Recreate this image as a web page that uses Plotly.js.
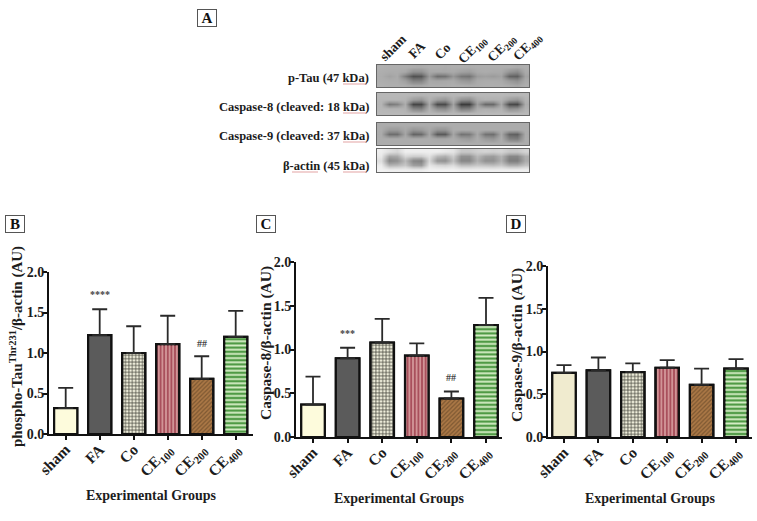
<!DOCTYPE html>
<html><head><meta charset="utf-8">
<script src="https://cdn.plot.ly/plotly-3.0.1.min.js"></script>
<style>html,body{margin:0;padding:0;background:#fff}</style></head>
<body><div id="chart" style="width:757px;height:521px"></div>
<script>
const groups = [0,1,2,3,4,5];
const groupLabels = ['sham','FA','Co','CE<sub>100</sub>','CE<sub>200</sub>','CE<sub>400</sub>'];
const tauValues = [0.32,1.22,1.00,1.11,0.68,1.20];
const tauErrors = [0.25,0.32,0.33,0.35,0.28,0.32];
const casp8Values = [0.37,0.90,1.08,0.93,0.44,1.28];
const casp8Errors = [0.32,0.12,0.27,0.14,0.08,0.31];
const casp9Values = [0.75,0.78,0.76,0.81,0.61,0.80];
const casp9Errors = [0.09,0.15,0.10,0.09,0.19,0.11];
const yTicks = [0,0.5,1,1.5,2];
const yTickLabels = ['0.0','0.5','1.0','1.5','2.0'];

const blotTau = [
 [176,174,174,174,172,170,174,174,172,174,174,172,174,174,174,174,174,170,174],
 [174,172,172,168,145,145,168,168,168,170,162,158,170,172,170,170,150,140,170],
 [172,162,170,125,80, 85, 155,110,115,150,120,115,155,160,155,162,100,95, 162],
 [174,172,172,160,130,130,168,165,168,170,155,150,170,172,172,170,155,145,170],
 [176,174,174,172,165,165,172,172,172,174,172,170,172,174,174,174,170,165,174]];
const blotCasp8 = [
 [184,184,184,184,182,180,182,182,180,182,182,180,184,184,184,184,182,182,184],
 [182,182,182,180,158,150,178,158,150,176,145,140,172,178,176,178,158,150,178],
 [180,120,130,172,70, 70, 168,75, 75, 162,60, 60, 158,105,105,168,75, 70, 172],
 [182,180,180,178,135,130,176,145,140,172,125,130,172,175,172,178,145,150,178],
 [184,184,184,182,180,178,182,180,180,182,180,180,182,184,184,184,182,182,184]];
const blotCasp9 = [
 [172,172,172,172,172,172,172,172,172,172,172,172,172,172,172,172,172,172,172],
 [172,155,155,168,150,155,168,150,150,172,172,172,172,172,172,172,172,172,172],
 [170,110,110,165,100,105,165,90, 90, 165,115,120,168,115,110,168,100,95, 170],
 [172,172,172,172,172,172,172,168,168,172,160,155,172,155,150,172,130,125,172],
 [172,172,172,172,172,172,172,172,172,172,172,172,172,172,172,172,172,172,172]];
const blotActin = [
 [238,225,215,238,238,238,238,238,232,228,200,200,208,212,208,212,200,200,212],
 [232,165,170,215,205,205,225,185,175,205,145,145,185,160,155,180,135,135,175],
 [222,135,145,185,135,130,215,150,145,190,135,135,175,145,145,175,125,125,170],
 [236,180,185,200,160,155,230,215,210,220,190,190,200,195,190,200,175,175,195],
 [242,238,238,238,235,235,242,242,242,242,238,238,238,238,238,238,238,238,238]];

const W = 757, H = 521;
const dx = (a,b)=>[a/W,b/W];
const dy = (top,bot)=>[1-bot/H,1-top/H];
const serif = '"Liberation Serif","Times New Roman",serif';
const ink = '#1c1c1c';

function baseBars(vals, first, ax){
  return {type:'bar', x:groups, y:vals, width:0.68, xaxis:'x'+ax, yaxis:'y'+ax, showlegend:false,
    marker:{color:[first,'#5b5b5b','#f0efdc','#a9505c','#ab7846','#4f9a45'],line:{color:'#111',width:2.2}}};
}
function patternBars(vals, errs, first, ax){
  return {type:'bar', x:groups, y:vals, width:0.68, xaxis:'x'+ax, yaxis:'y'+ax, showlegend:false,
    marker:{color:[first,'#5b5b5b','#4a4a40','#dba5a5','#7d5832','#d4ecc4'],
      line:{color:'#111',width:2.2},
      pattern:{shape:['','','+','|','/','-'],
        size:[4,4,3.4,3.6,3,4.2],solidity:[0.3,0.3,0.4,0.4,0.4,0.45],fillmode:'replace'}},
    error_y:{type:'data',symmetric:false,array:errs,arrayminus:[0,0,0,0,0,0],color:'#2a2a2a',thickness:1.8,width:7.5}};
}
function heat(z, ax){
  return {type:'heatmap', z:z, xaxis:'x'+ax, yaxis:'y'+ax, showscale:false, zsmooth:'best',
    zmin:0, zmax:255, colorscale:[[0,'#000'],[1,'#fff']], hoverinfo:'skip'};
}
function xAxis(domain, range, anchor){
  return {domain:domain, range:range, anchor:anchor, tickmode:'array', tickvals:groups, ticktext:groupLabels,
    tickangle:-45, ticks:'outside', ticklen:4, tickwidth:2, tickcolor:'#111', showline:true, linecolor:'#111', linewidth:2.4,
    showgrid:false, zeroline:false, ticklabelstandoff:-6, tickfont:{family:serif,size:15.5,color:ink,weight:700},
    title:{text:'Experimental Groups',font:{family:serif,size:14,color:ink,weight:700},standoff:10}};
}
function yAxis(domain, anchor){
  return {domain:domain, range:[0,2], anchor:anchor, tickmode:'array', tickvals:yTicks, ticktext:yTickLabels,
    ticks:'outside', ticklen:3.5, tickwidth:2, tickcolor:'#111', showline:true, linecolor:'#111', linewidth:2.4,
    showgrid:false, zeroline:false, ticklabelstandoff:-4, tickfont:{family:serif,size:14,color:ink,weight:700}};
}
function blotX(anchor){return {domain:dx(377,529),range:[-0.5,18.5],anchor:anchor,showticklabels:false,ticks:'',showgrid:false,zeroline:false,showline:true,mirror:true,linecolor:'#666',linewidth:1.2};}
function blotY(top,bot,anchor){return {domain:dy(top,bot),range:[4.5,-0.5],anchor:anchor,showticklabels:false,ticks:'',showgrid:false,zeroline:false,showline:true,mirror:true,linecolor:'#666',linewidth:1.2};}

const traces = [
  baseBars(tauValues,'#fdfbdc',''),patternBars(tauValues,tauErrors,'#fdfbdc',''),
  baseBars(casp8Values,'#fdfbdc','2'),patternBars(casp8Values,casp8Errors,'#fdfbdc','2'),
  baseBars(casp9Values,'#f0ebcf','3'),patternBars(casp9Values,casp9Errors,'#f0ebcf','3'),
  heat(blotTau,'4'),heat(blotCasp8,'5'),heat(blotCasp9,'6'),heat(blotActin,'7')
];
const xr = (c0,step,l,r)=>[(l-c0)/step,(r-c0)/step];

const letter = (t,x,y)=>({text:'<b>'+t+'</b>',xref:'paper',yref:'paper',x:x/W,y:1-y/H,xanchor:'center',yanchor:'middle',showarrow:false,
  font:{family:serif,size:15,color:'#111'},bordercolor:'#555',borderwidth:1,width:18,height:16,borderpad:0,bgcolor:'#fff'});
const blotLabel = (t,y)=>({text:'<b>'+t+'</b>',xref:'paper',yref:'paper',x:371/W,y:1-y/H,xanchor:'right',yanchor:'middle',showarrow:false,
  font:{family:serif,size:12.5,color:ink}});
const lane = (t,x,y)=>({text:'<b>'+t+'</b>',xref:'paper',yref:'paper',x:x/W,y:1-y/H,xanchor:'center',yanchor:'middle',showarrow:false,textangle:-45,
  font:{family:serif,size:13.5,color:ink}});
const mark = (t,xa,ya,x,y)=>({text:'<b>'+t+'</b>',xref:xa,yref:ya,x:x,y:y,showarrow:false,xanchor:'center',yanchor:'middle',font:{family:serif,size:10,color:'#444'}});
const yTitle = (t,x,y,s)=>({text:'<b>'+t+'</b>',xref:'paper',yref:'paper',x:x/W,y:1-y/H,xanchor:'center',yanchor:'middle',showarrow:false,textangle:-90,
  font:{family:serif,size:s,color:ink}});
const squiggle = (x0,x1,y)=>({type:'line',xref:'paper',yref:'paper',x0:x0/W,x1:x1/W,y0:1-y/H,y1:1-y/H,line:{color:'#e3a3a3',width:1}});

const layout = {
  width:W,height:H,margin:{l:0,r:0,t:0,b:0},paper_bgcolor:'#fff',plot_bgcolor:'#fff',showlegend:false,barmode:'overlay',
  xaxis:xAxis(dx(49,253),xr(65.7,34,49,253),'y'),
  yaxis:yAxis(dy(272,434),'x'),
  xaxis2:xAxis(dx(296,502),xr(313,34.6,296,502),'y2'),
  yaxis2:yAxis(dy(262,437),'x2'),
  xaxis3:xAxis(dx(548,752),xr(564,34.4,548,752),'y3'),
  yaxis3:yAxis(dy(266,437),'x3'),
  xaxis4:blotX('y4'),yaxis4:blotY(65,87,'x4'),
  xaxis5:blotX('y5'),yaxis5:blotY(93,115,'x5'),
  xaxis6:blotX('y6'),yaxis6:blotY(123,145,'x6'),
  xaxis7:blotX('y7'),yaxis7:blotY(149,172,'x7'),
  shapes:[squiggle(343,367,84),squiggle(343,367,113),squiggle(343,367,142),squiggle(343,367,172),squiggle(292,318,172)],
  annotations:[
    letter('A',207,18),letter('B',15,224),letter('C',266,224),letter('D',516,224),
    yTitle('phospho-Tau<sup>Thr231</sup>/β-actin (AU)',17,347,15),yTitle('Caspase-8/β-actin (AU)',266,343,15.5),yTitle('Caspase-9/β-actin (AU)',517,345,15.5),
    blotLabel('p-Tau (47 kDa)',78),blotLabel('Caspase-8 (cleaved: 18 kDa)',107),blotLabel('Caspase-9 (cleaved: 37 kDa)',136),blotLabel('β-actin (45 kDa)',166),
    lane('sham',393,47),lane('FA',416,50),lane('Co',442,51),lane('CE<sub>100</sub>',472,50),lane('CE<sub>200</sub>',502,49),lane('CE<sub>400</sub>',527,47),
    mark('****','x','y',1,1.72),mark('##','x','y',4,1.12),
    mark('***','x2','y2',1,1.18),mark('##','x2','y2',4,0.68)
  ]
};
Plotly.newPlot('chart',traces,layout,{staticPlot:true,displayModeBar:false});
</script></body></html>
